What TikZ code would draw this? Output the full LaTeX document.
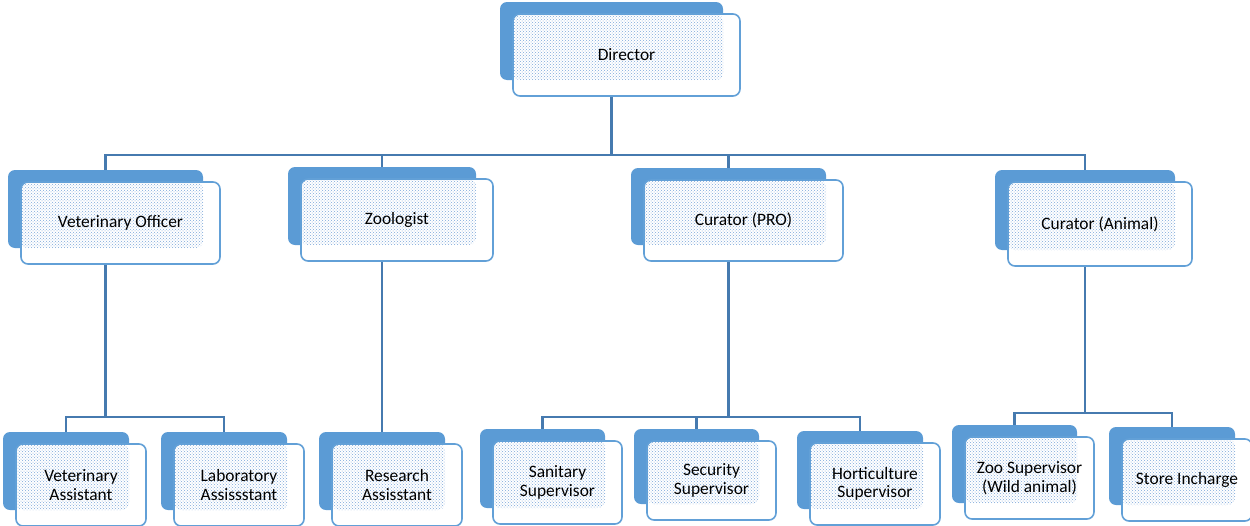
\documentclass[tikz,border=0pt]{standalone}
\usepackage{fontspec}
\setmainfont{Carlito}
\usetikzlibrary{patterns,backgrounds}
\definecolor{cardblue}{RGB}{91,155,213}
\definecolor{edgeblue}{RGB}{98,160,215}
\definecolor{linkblue}{RGB}{70,122,175}
\definecolor{dotblue}{RGB}{125,168,218}

\begin{document}
\begin{tikzpicture}[x=1pt, y=-1pt,
    back/.style={fill=cardblue, rounded corners=7pt, inner sep=0pt, minimum height=78pt},
    card/.style={draw=edgeblue, line width=1.6pt, fill=white, rounded corners=7pt,
        inner sep=2pt, align=center, minimum height=82pt,
        font=\fontsize{17.4}{18.5}\selectfont,
        path picture={\fill[pattern=crosshatch dots, pattern color=dotblue]
            (path picture bounding box.north west) rectangle
            ([xshift=-17pt,yshift=16pt]path picture bounding box.south east);}},
    link/.style={draw=linkblue, line width=2.2pt}]

    \useasboundingbox (0,0) rectangle (1250,525);

    % Director
    \node[back, minimum width=223pt] (dir) at (611.5,41) {};
    \node[card, minimum width=227pt] (dirT) at ([shift={(15,14)}]dir.center) {Director};

    % Second row
    \node[back, minimum width=195pt] (vo) at (105.5,209) {};
    \node[card, minimum width=199pt] (voT) at ([shift={(15,14)}]vo.center) {Veterinary Officer};
    \node[back, minimum width=188pt] (zoo) at (382,206) {};
    \node[card, minimum width=192pt] (zooT) at ([shift={(15,14)}]zoo.center) {Zoologist};
    \node[back, minimum width=195pt, minimum height=77pt] (cpro) at (728.5,206.5) {};
    \node[card, minimum width=199pt, minimum height=81pt] (cproT) at ([shift={(15,14)}]cpro.center) {Curator (PRO)};
    \node[back, minimum width=180pt, minimum height=80pt] (cani) at (1085,210) {};
    \node[card, minimum width=184pt, minimum height=84pt] (caniT) at ([shift={(15,14)}]cani.center) {Curator (Animal)};

    % Third row
    \node[back, minimum width=126pt] (va) at (66,471) {};
    \node[card, minimum width=130pt] (vaT) at ([shift={(15,14)}]va.center) {Veterinary\\Assistant};
    \node[back, minimum width=126pt] (la) at (224,471) {};
    \node[card, minimum width=130pt] (laT) at ([shift={(15,14)}]la.center) {Laboratory\\Assissstant};
    \node[back, minimum width=126pt] (ra) at (382,471) {};
    \node[card, minimum width=130pt] (raT) at ([shift={(15,14)}]ra.center) {Research\\Assisstant};
    \node[back, minimum width=125pt, minimum height=79pt] (ss) at (542.5,468.5) {};
    \node[card, minimum width=129pt, minimum height=83pt] (ssT) at ([shift={(15,14)}]ss.center) {Sanitary\\Supervisor};
    \node[back, minimum width=125pt, minimum height=75pt] (sec) at (696.5,466.5) {};
    \node[card, minimum width=129pt, minimum height=79pt] (secT) at ([shift={(15,14)}]sec.center) {Security\\Supervisor};
    \node[back, minimum width=126pt] (hs) at (860,470) {};
    \node[card, minimum width=130pt] (hsT) at ([shift={(15,14)}]hs.center) {Horticulture\\Supervisor};
    \node[back, minimum width=125pt] (zs) at (1014.5,464) {};
    \node[card, minimum width=129pt] (zsT) at ([shift={(15,14)}]zs.center) {Zoo Supervisor\\(Wild animal)};
    \node[back, minimum width=126pt] (si) at (1172,466) {};
    \node[card, minimum width=130pt] (siT) at ([shift={(15,14)}]si.center) {Store Incharge};

    % Connectors
    \begin{scope}[on background layer]
        \coordinate (topbus) at (611.5,155);
        \coordinate (vobus) at (105.5,417);
        \coordinate (probus) at (728.5,417);
        \coordinate (anibus) at (1085,413);
        \foreach \k in {vo,zoo,cpro,cani}
            \draw[link] (dir.south) -- (topbus) -| (\k.north);
        \foreach \k in {va,la}
            \draw[link] (vo.south) -- (vobus) -| (\k.north);
        \draw[link] (zoo.south) -- (ra.north);
        \foreach \k in {ss,sec,hs}
            \draw[link] (cpro.south) -- (probus) -| (\k.north);
        \foreach \k in {zs,si}
            \draw[link] (cani.south) -- (anibus) -| (\k.north);
    \end{scope}

\end{tikzpicture}
\end{document}
